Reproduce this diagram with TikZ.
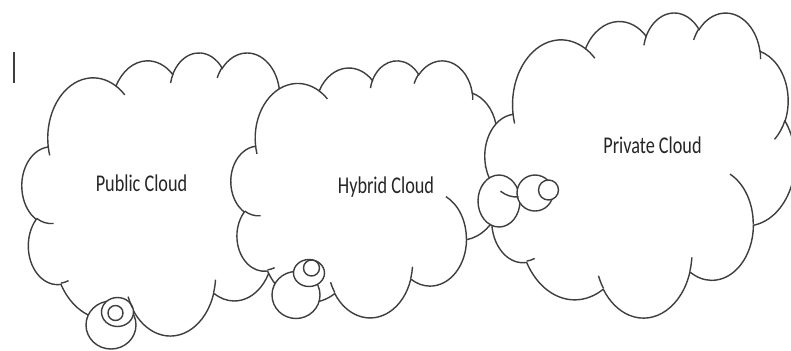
\documentclass[tikz,border=0pt]{standalone}
\usepackage{fontspec}
\setmainfont{Carlito}
\usepackage{graphicx}
\definecolor{cloudGray}{RGB}{62,62,62}

\tikzset{
  % one bump of the cloud outline: x radius, y radius, start and sweep angle (office style, y downwards)
  puff/.style n args={4}{
    /utils/exec={%
      \pgfmathsetmacro\puffA{atan2(#1*sin(#3),#2*cos(#3))}%
      \pgfmathsetmacro\puffB{atan2(#1*sin(#3+#4),#2*cos(#3+#4))}%
      \pgfmathsetmacro\puffS{0-(\puffA)}%
      \pgfmathsetmacro\puffD{0-mod(\puffB-(\puffA)+720,360)}%
    },
    insert path={arc[start angle=\puffS,delta angle=\puffD,x radius=#1,y radius=#2]}
  },
  cloudbody/.pic={
    \draw[cloudline,fill=white] (3.900,-14.370)
      [puff={6.753}{9.190}{-190.4875}{123.7805}]
      [puff={5.333}{7.267}{-144.1024}{89.9452}]
      [puff={4.365}{5.945}{-145.8079}{99.7230}]
      [puff={4.857}{6.595}{-130.9861}{117.2417}]
      [puff={5.333}{7.273}{-78.7089}{109.0269}]
      [puff={6.775}{9.220}{-46.2673}{130.2690}]
      [puff={5.785}{7.867}{0.6250}{114.0333}]
      [puff={6.752}{9.215}{22.4516}{115.1726}]
      [puff={7.720}{10.543}{66.2426}{75.7110}]
      [puff={4.360}{5.918}{-274.9421}{146.7356}]
      [puff={4.345}{5.945}{-246.8285}{152.5189}] -- cycle;
  },
  cloudhooks/.pic={
    \draw[cloudline]
      (4.693,-26.177) [puff={4.345}{5.945}{86.7420}{26.4295}]
      (6.928,-34.899) [puff={4.360}{5.918}{73.6105}{11.4475}]
      (16.478,-39.090) [puff={6.752}{9.215}{137.6242}{14.0811}]
      (28.827,-34.751) [puff={6.752}{9.215}{6.4533}{15.9984}]
      (34.129,-22.954) [puff={5.785}{7.867}{-70.2924}{70.9174}]
      (41.798,-15.354) [puff={5.333}{7.273}{30.3180}{27.7515}]
      (38.324,-5.426) [puff={4.857}{6.595}{-13.7443}{14.8589}]
      (29.078,-3.952) [puff={4.857}{6.595}{-149.1815}{18.1954}]
      (22.141,-4.720) [puff={4.365}{5.945}{-163.4943}{17.6864}]
      (14.000,-5.192) [puff={6.753}{9.190}{-66.7070}{12.3194}]
      (4.127,-15.789) [puff={6.753}{9.190}{157.6544}{11.8582}];
  }
}

\begin{document}
\begin{tikzpicture}[x=0.5pt,y=0.5pt,
  cloudline/.style={draw=cloudGray,line width=0.7pt},
  cloudtext/.style={font=\fontsize{12}{14}\selectfont,text=black!85,inner sep=0pt}]
\useasboundingbox (0,0) rectangle (791,-350);
\fill[white] (0,0) rectangle (791,-350);

% cursor mark
\draw[cloudGray,line width=1pt] (14,-52) -- (14,-83);

% public cloud
\pic[xscale=290/43.2,yscale=283/43.2] at (22,-52) {cloudbody};
\draw[cloudline,fill=white] (111,-325) ellipse [x radius=25,y radius=24];
\draw[cloudline,fill=white] (117.5,-312) ellipse [x radius=16,y radius=14.5];
\draw[cloudline,fill=white] (115.5,-313) ellipse [x radius=7.5,y radius=7.5];
\pic[xscale=290/43.2,yscale=283/43.2] at (22,-52) {cloudhooks};

% hybrid cloud
\pic[xscale=272/43.2,yscale=257/43.2] at (231,-60) {cloudbody};
\draw[cloudline,fill=white] (296,-295) ellipse [x radius=24,y radius=23.5];
\draw[cloudline,fill=white] (309,-273) ellipse [x radius=15.5,y radius=13.5];
\draw[cloudline,fill=white] (311.5,-268) ellipse [x radius=8,y radius=8];
\pic[xscale=272/43.2,yscale=257/43.2] at (231,-60) {cloudhooks};

% private cloud
\pic[xscale=310/43.2,yscale=305/43.2] at (485,-12) {cloudbody};
\draw[cloudline,fill=white] (499,-201) ellipse [x radius=21,y radius=26];
\draw[cloudline,fill=white] (535,-193) ellipse [x radius=18,y radius=18];
\draw[cloudline,fill=white] (548.5,-190) ellipse [x radius=10,y radius=10];
\pic[xscale=310/43.2,yscale=305/43.2] at (485,-12) {cloudhooks};

\node[cloudtext] (public) at (141.5,-183) {\scalebox{0.76}[1]{Public Cloud}};
\node[cloudtext] (hybrid) at (386,-187) {\scalebox{0.76}[1]{Hybrid Cloud}};
\node[cloudtext] (private) at (652.5,-145) {\scalebox{0.76}[1]{Private Cloud}};
\end{tikzpicture}
\end{document}
